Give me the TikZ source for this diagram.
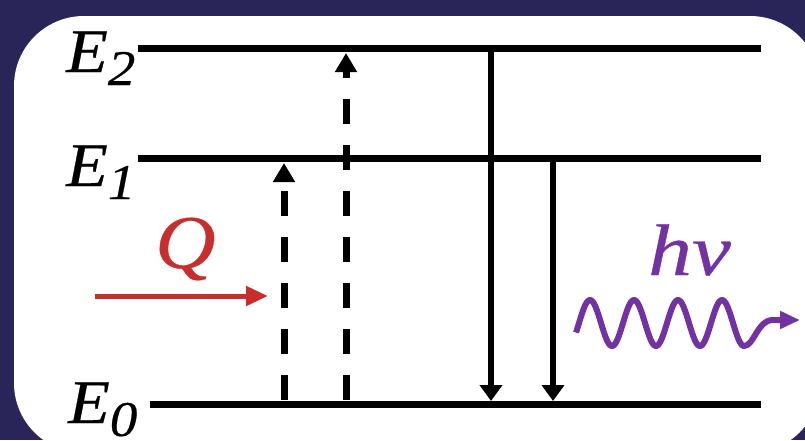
\documentclass[tikz,border=0pt]{standalone}
\usepackage{graphicx}
\usepackage{fontspec}
\setmainfont{Liberation Serif}
\newfontfamily\labfont[FakeBold=0.4]{Liberation Serif}
\usetikzlibrary{arrows.meta}
\definecolor{bgnavy}{HTML}{2A2559}
\definecolor{qred}{HTML}{C62F2E}
\definecolor{hvpurple}{HTML}{7232A2}
\newcommand{\hstretch}[2]{\scalebox{#1}[1]{#2}}
\begin{document}
\begin{tikzpicture}[x=1pt,y=-1pt,
  level/.style={line width=7pt},
  updash/.style={line width=7pt, dash pattern=on 25pt off 21pt, -{Triangle[length=19pt,width=21pt]}},
  downarrow/.style={line width=6.5pt, -{Triangle[length=16pt,width=22pt]}},
  lab/.style={anchor=base west, inner sep=0pt, font=\labfont\fontsize{62}{62}\selectfont\itshape},
  qlab/.style={anchor=base west, inner sep=0pt, text=qred, font=\labfont\fontsize{76}{76}\selectfont\itshape},
  hvlab/.style={anchor=base west, inner sep=0pt, text=hvpurple, font=\labfont\fontsize{73}{73}\selectfont\itshape},
  qarrow/.style={draw=qred, line width=5pt, -{Triangle[length=22pt,width=19pt]}},
  wavy/.style={draw=hvpurple, line width=6pt, line join=round, -{Triangle[length=20pt,width=17pt]}}
]
\useasboundingbox (0,0) rectangle (805,440);
\fill[bgnavy] (0,0) rectangle (805,440);
\fill[white, rounded corners=70pt] (14,16) rectangle (820,453);

% level endpoints
\coordinate (e2l) at (138,48);  \coordinate (e2r) at (761,48);
\coordinate (e1l) at (138,158); \coordinate (e1r) at (761,158);
\coordinate (e0l) at (150,404); \coordinate (e0r) at (761,404);

% labels
\node[lab] (E2lab) at (66,72) {\hstretch{1.1}{E\raisebox{-13pt}{\fontsize{50}{50}\selectfont 2}}};
\node[lab] (E1lab) at (66,186) {\hstretch{1.1}{E\raisebox{-13pt}{\fontsize{50}{50}\selectfont 1}}};
\node[lab] (E0lab) at (68,423) {\hstretch{1.1}{E\raisebox{-13pt}{\fontsize{50}{50}\selectfont 0}}};

% levels
\draw[level] (e2l) -- (e2r);
\draw[level] (e1l) -- (e1r);
\draw[level] (e0l) -- (e0r);

% excitation (dashed, up)
\coordinate (a1s) at (284,400); \coordinate (a1e) at (284,163);
\coordinate (a2s) at (346,400); \coordinate (a2e) at (346,53);
\draw[updash] (a1s) -- (a1e);
\draw[updash] (a2s) -- (a2e);

% emission (solid, down)
\coordinate (d1s) at (491,46);  \coordinate (d1e) at (491,401);
\coordinate (d2s) at (553,156); \coordinate (d2e) at (553,401);
\draw[downarrow] (d1s) -- (d1e);
\draw[downarrow] (d2s) -- (d2e);

% Q
\node[qlab] (Q) at (155,268) {\hstretch{1.1}{Q}};
\coordinate (qs) at (95,296); \coordinate (qe) at (268,296);
\draw[qarrow] (qs) -- (qe);

% hv
\node[hvlab] (hv) at (648,275) {\hstretch{1.2}{hv}};
\coordinate (wend) at (800,320);
\draw[wavy] plot[domain=576:744, samples=160] (\x,{323-23*sin((\x-579)*8.181818)})
  .. controls (754,346) and (757,321) .. (772,320) -- (wend);
\end{tikzpicture}
\end{document}
